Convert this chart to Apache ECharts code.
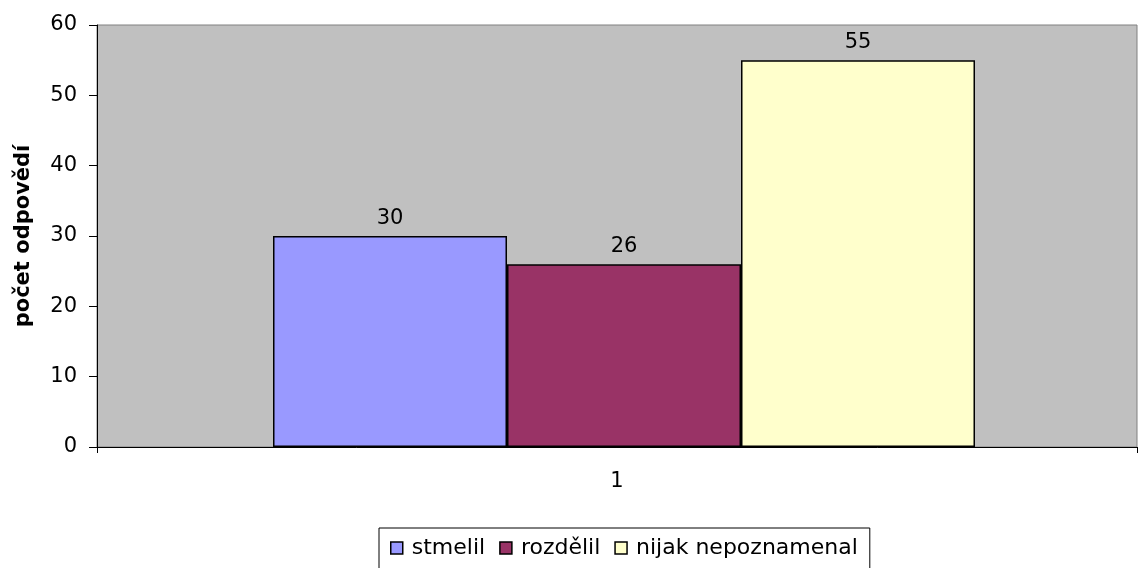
<!DOCTYPE html>
<html>
<head>
<meta charset="utf-8">
<script src="https://cdn.jsdelivr.net/npm/echarts@6/dist/echarts.min.js"></script>
<style>
  html, body { margin: 0; padding: 0; background: #fff; }
  #chart { width: 1139px; height: 568px; }
</style>
</head>
<body>
<div id="chart"></div>
<script>
const categories = ["1"];
const seriesNames = ["stmelil", "rozdělil", "nijak nepoznamenal"];
const seriesColors = ["#9999ff", "#993366", "#ffffcc"];
const stmelil = [30];
const rozdelil = [26];
const nijak = [55];
const yTicks = { min: 0, max: 60, interval: 10 };

// the original text is a horizontally stretched Arial; DejaVu Sans has about the same widths
const font = "DejaVu Sans, Liberation Sans, sans-serif";
const values = [stmelil, rozdelil, nijak];

const chart = echarts.init(document.getElementById("chart"));

// empty spacer bar so the group sits a little right of centre, as in the original
const spacer = {
  name: "_spacer",
  type: "bar",
  data: [0],
  barWidth: 14,
  barGap: "0%",
  silent: true,
  itemStyle: { color: "transparent", borderWidth: 0 },
  label: { show: false }
};

const option = {
  animation: false,
  textStyle: { fontFamily: font },
  grid: {
    left: 97, right: 2, top: 25, bottom: 121,
    show: true,
    backgroundColor: "#c0c0c0",
    borderColor: "#808080",
    borderWidth: 1
  },
  legend: {
    left: 379,
    top: 528,
    padding: [9, 12, 12, 11],
    borderColor: "#000",
    borderWidth: 1,
    itemWidth: 12,
    itemHeight: 12,
    itemGap: 14,
    textStyle: { fontSize: 22, color: "#000", fontFamily: font, padding: [0, 0, 0, 4] },
    data: seriesNames.map((n, i) => ({
      name: n,
      icon: "rect",
      itemStyle: { color: seriesColors[i], borderColor: "#000", borderWidth: 1.5 }
    }))
  },
  xAxis: {
    type: "category",
    data: categories,
    axisLine: { lineStyle: { color: "#000", width: 1 } },
    axisTick: { show: true, length: 6, lineStyle: { color: "#000" } },
    axisLabel: { fontSize: 21, color: "#000", margin: 24, fontFamily: font }
  },
  yAxis: {
    type: "value",
    min: yTicks.min,
    max: yTicks.max,
    interval: yTicks.interval,
    name: "počet odpovědí",
    nameLocation: "middle",
    nameGap: 63,
    nameTextStyle: { fontSize: 21, fontWeight: "bold", color: "#000", fontFamily: font },
    axisLine: { show: true, lineStyle: { color: "#000", width: 1 } },
    axisTick: { show: true, length: 8, lineStyle: { color: "#000" } },
    splitLine: { show: false },
    axisLabel: { fontSize: 21, color: "#000", margin: 20, fontFamily: font }
  },
  series: [spacer].concat(seriesNames.map((n, i) => ({
    name: n,
    type: "bar",
    data: values[i],
    barWidth: 234,
    barGap: "0%",
    itemStyle: { color: seriesColors[i], borderColor: "#000", borderWidth: 1.5 },
    label: {
      show: true,
      position: "top",
      distance: 7,
      fontSize: 21,
      color: "#000",
      fontFamily: font
    }
  })))
};

chart.setOption(option);
</script>
</body>
</html>
